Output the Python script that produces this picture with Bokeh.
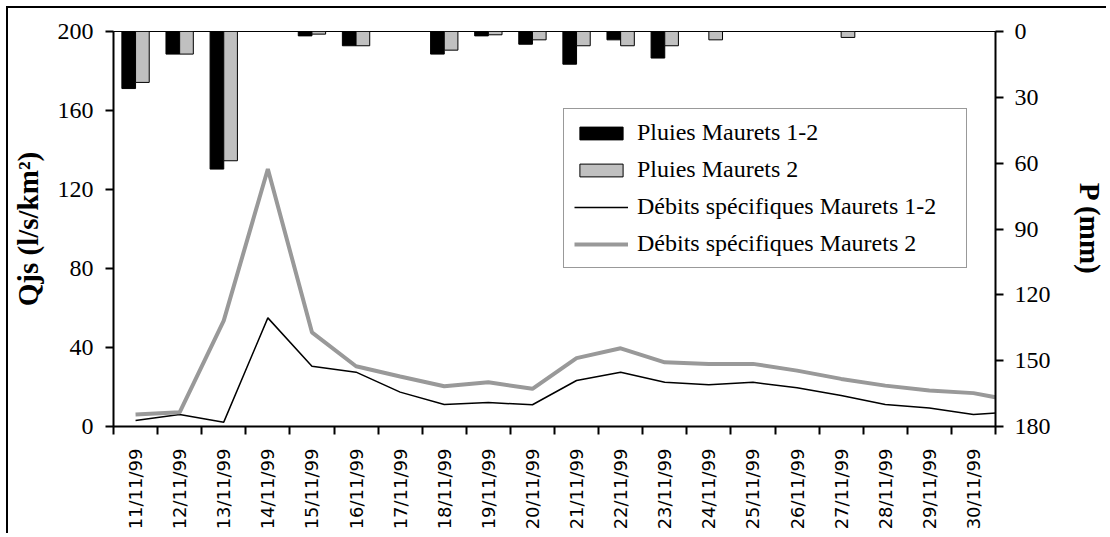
import math
from bokeh.plotting import figure
from bokeh.models import (Range1d, LinearAxis, FixedTicker, Legend, LegendItem,
                          ColumnDataSource)
from bokeh.embed import file_html
from bokeh.resources import INLINE

# ---- data ----
dates = ["11/11/99", "12/11/99", "13/11/99", "14/11/99", "15/11/99", "16/11/99",
         "17/11/99", "18/11/99", "19/11/99", "20/11/99", "21/11/99", "22/11/99",
         "23/11/99", "24/11/99", "25/11/99", "26/11/99", "27/11/99", "28/11/99",
         "29/11/99", "30/11/99"]
# daily specific discharge (l/s/km2); last value is 1/12/99 (beyond the axis end)
qjs_m12 = [3.0, 6.1, 2.2, 55.0, 30.5, 27.5, 17.4, 11.1, 12.1, 11.0, 23.3, 27.5,
           22.4, 21.2, 22.4, 19.6, 15.7, 11.1, 9.4, 6.1, 7.5]
qjs_m2 = [6.1, 7.2, 53.6, 130.4, 47.7, 30.5, 25.3, 20.4, 22.4, 19.1, 34.6, 39.6,
          32.5, 31.7, 31.7, 28.3, 24.1, 20.7, 18.2, 16.9, 12.7]
# daily rainfall (mm)
p_m12 = [26.0, 10.3, 62.7, 0, 2.0, 6.5, 0, 10.3, 2.0, 5.8, 14.9, 3.8, 12.1,
         0, 0, 0, 0, 0, 0, 0]
p_m2 = [23.2, 10.3, 58.9, 0, 1.2, 6.5, 0, 8.5, 1.5, 3.8, 6.5, 6.5, 6.5,
        3.8, 0, 0, 2.7, 0, 0, 0]
q_ticks = [0, 40, 80, 120, 160, 200]
p_ticks = [0, 30, 60, 90, 120, 150, 180]

n = len(dates)
centers = [i + 0.5 for i in range(n)]
bounds = list(range(n + 1))
line_x = [i + 0.5 for i in range(len(qjs_m12))]

bar_src = ColumnDataSource(dict(
    x1=[c - 0.155 for c in centers], x2=[c + 0.155 for c in centers],
    p1=p_m12, p2=p_m2, zero=[0] * n))
line_src = ColumnDataSource(dict(x=line_x, q1=qjs_m12, q2=qjs_m2))

SERIF = "Liberation Serif"

p = figure(width=1100, height=527, output_backend="svg", toolbar_location=None,
           x_range=Range1d(0, n), y_range=Range1d(0, 200),
           min_border_left=105, min_border_right=110, min_border_top=23,
           min_border_bottom=109,
           background_fill_color="white", border_fill_color="white",
           outline_line_color="black", outline_line_width=1)
# outer chart frame: only its top and left edges fall inside the window
p.styles = {"border-left": "2px solid black", "border-top": "2px solid black",
            "margin-left": "6px", "margin-top": "6px"}
p.grid.visible = False

p.extra_y_ranges = {"p": Range1d(start=180, end=0)}

# bars
r_b1 = p.vbar(x="x1", width=0.31, top="zero", bottom="p1", source=bar_src, y_range_name="p",
              fill_color="black", line_color="black", line_width=1)
r_b2 = p.vbar(x="x2", width=0.31, top="zero", bottom="p2", source=bar_src, y_range_name="p",
              fill_color="#C0C0C0", line_color="black", line_width=1)
# lines
r_l1 = p.line("x", "q1", source=line_src, line_color="black", line_width=1.5)
r_l2 = p.line("x", "q2", source=line_src, line_color="#999999", line_width=4)

# x axis
xa = p.xaxis[0]
xa.ticker = FixedTicker(ticks=centers, minor_ticks=bounds)
xa.major_label_overrides = {c: d for c, d in zip(centers, dates)}
xa.major_label_orientation = math.pi / 2
xa.major_tick_in = 0
xa.major_tick_out = 0
xa.minor_tick_in = 0
xa.minor_tick_out = 8
xa.minor_tick_line_width = 2
xa.minor_tick_line_color = "black"
xa.axis_line_width = 2
xa.major_label_standoff = 14
xa.major_label_text_font = "DejaVu Sans"
xa.major_label_text_font_size = "18px"
xa.major_label_text_color = "black"

# left axis
ya = p.yaxis[0]
ya.ticker = FixedTicker(ticks=q_ticks)
ya.axis_label = "Qjs (l/s/km²)"
ya.axis_line_width = 2
ya.major_tick_in = 0
ya.major_tick_out = 8
ya.major_tick_line_width = 2
ya.minor_tick_out = 0
ya.minor_tick_in = 0
ya.major_label_standoff = 12
ya.major_label_text_font = SERIF
ya.major_label_text_font_size = "24px"
ya.major_label_text_color = "black"
ya.axis_label_text_font = SERIF
ya.axis_label_text_font_style = "bold"
ya.axis_label_text_font_size = "29px"
ya.axis_label_text_color = "black"
ya.axis_label_standoff = 11

# right axis
ra = LinearAxis(y_range_name="p", ticker=FixedTicker(ticks=p_ticks), axis_label="P (mm)")
ra.axis_line_width = 2
ra.major_tick_in = 0
ra.major_tick_out = 8
ra.major_tick_line_width = 2
ra.minor_tick_out = 0
ra.minor_tick_in = 0
ra.major_label_standoff = 11
ra.major_label_text_font = SERIF
ra.major_label_text_font_size = "24px"
ra.major_label_text_color = "black"
ra.axis_label_text_font = SERIF
ra.axis_label_text_font_style = "bold"
ra.axis_label_text_font_size = "29px"
ra.axis_label_text_color = "black"
ra.axis_label_standoff = 20
p.add_layout(ra, "right")

legend = Legend(items=[
    LegendItem(label="Pluies Maurets 1-2", renderers=[r_b1]),
    LegendItem(label="Pluies Maurets 2", renderers=[r_b2]),
    LegendItem(label="Débits spécifiques Maurets 1-2", renderers=[r_l1]),
    LegendItem(label="Débits spécifiques Maurets 2", renderers=[r_l2]),
], location=(450, 158))
legend.margin = 0
legend.padding = 10
legend.spacing = 10
legend.glyph_width = 54
legend.glyph_height = 16
legend.label_height = 26
legend.label_width = 319
legend.label_standoff = 9
legend.label_text_font = SERIF
legend.label_text_font_size = "24px"
legend.label_text_color = "black"
legend.border_line_color = "#333333"
legend.border_line_width = 1
legend.background_fill_color = "white"
legend.background_fill_alpha = 1
p.add_layout(legend, "center")

open("out.html", "w").write(file_html(p, INLINE))
